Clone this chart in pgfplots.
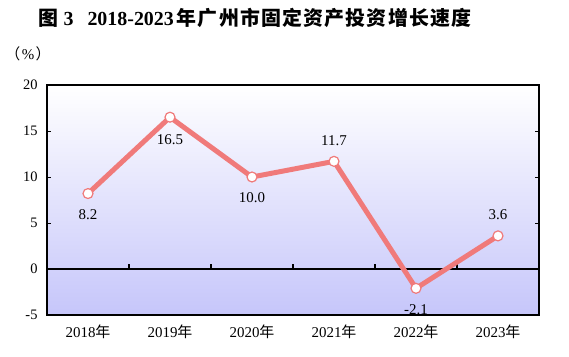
\documentclass[border=0pt]{standalone}
\usepackage{pgfplots}
\pgfplotsset{compat=1.18}
\usepackage{fontspec}
\setmainfont{Liberation Serif}
\newfontfamily\cjk{Noto Sans CJK SC}
\newfontfamily\cjkb[LetterSpace=6]{Noto Sans CJK SC Bold}
\definecolor{linec}{RGB}{240,122,122}
\definecolor{bgbot}{RGB}{198,198,250}
\begin{document}
\begin{tikzpicture}
\begin{axis}[
  at={(0,0)}, anchor=south west,
  scale only axis, width=492bp, height=230bp,
  xmin=-0.5, xmax=5.5, ymin=-5, ymax=20,
  ytick={-5,0,5,10,15,20},
  xtick={0,1,2,3,4,5},
  xticklabels={2018{\cjk 年},2019{\cjk 年},2020{\cjk 年},2021{\cjk 年},2022{\cjk 年},2023{\cjk 年}},
  x tick style={draw=none},
  ytick align=inside, y tick style={black, line width=0.8pt}, major tick length=4bp,
  yticklabel style={font=\fontsize{14.5}{14.5}\selectfont, xshift=-6bp},
  xticklabel style={font=\fontsize{15}{15}\selectfont, yshift=-6bp},
  /pgf/number format/assume math mode=true,
  axis line style={black, line width=1.1pt},
  axis background/.style={shade, top color=white, bottom color=bgbot},
  clip=false,
]
\draw[black, line width=1.1pt] (axis cs:-0.5,0) -- (axis cs:5.5,0);
\pgfplotsinvokeforeach{0.5,1.5,2.5,3.5,4.5}{
  \draw[black, line width=1.1pt] (axis cs:#1,0) -- (axis cs:#1,0.55);
}
\addplot[linec, line width=5pt, mark=*, mark size=5bp,
  mark options={fill=white, draw=linec, line width=1.2pt},
  nodes near coords, point meta=explicit symbolic,
  every node near coord/.append style={font=\fontsize{15}{15}\selectfont, text=black, anchor=center},
  visualization depends on={value \thisrow{off} \as \myoff},
  every node near coord/.append style={yshift=\myoff bp},
] table[x=x, y=y, meta=lab] {
x y lab off
0 8.2 8.2 -21
1 16.5 16.5 -22
2 10.0 10.0 -21
3 11.7 11.7 21
4 -2.1 -2.1 -21
5 3.6 3.6 21
};
\end{axis}
\useasboundingbox (-47bp,-42bp) rectangle (522bp,315bp);
\node[font=\bfseries\fontsize{20}{20}\selectfont] at (208bp,297bp) {{\cjkb 图}\hspace{5bp}3\hspace{14bp}2018-2023\hspace{3bp}{\cjkb 年广州市固定资产投资增长速度}};
\node[font=\fontsize{15}{15}\selectfont] at (-19bp,261bp) {{\cjk （}\hspace{1.5bp}\%\hspace{1.5bp}{\cjk ）}};
\end{tikzpicture}
\end{document}
